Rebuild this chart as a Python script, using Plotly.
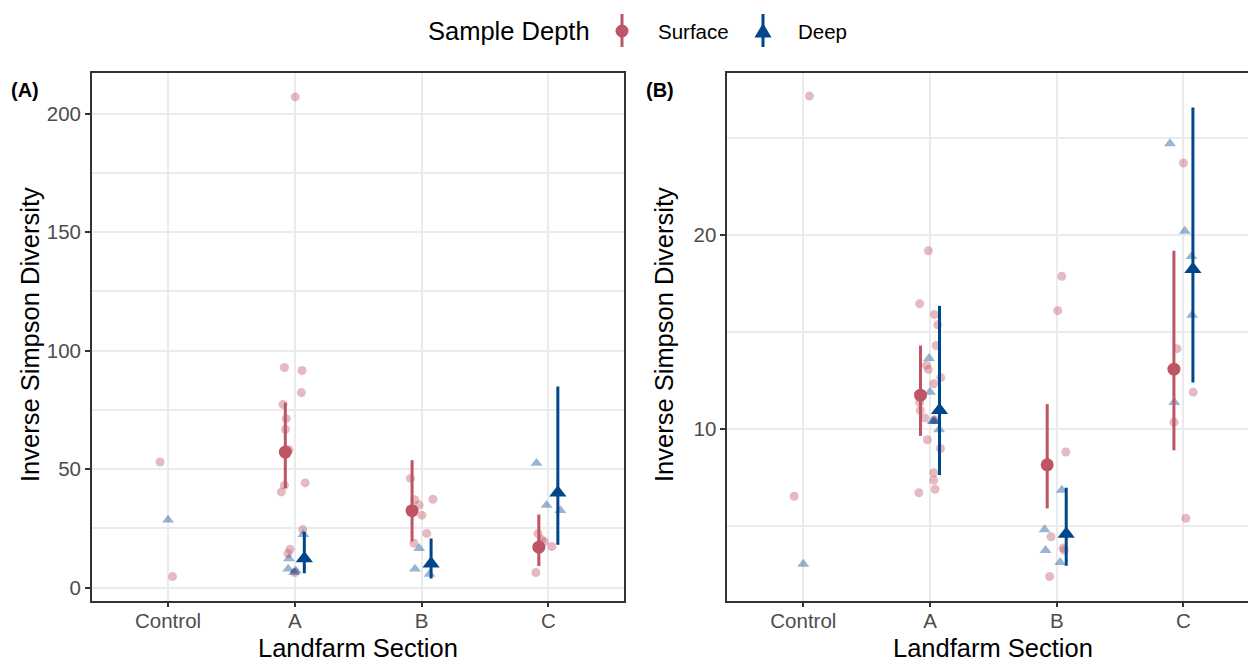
import plotly.graph_objects as go

# ---------------- data ----------------
categories = ["Control", "A", "B", "C"]
summary_categories = ["A", "B", "C"]

# Panel A – raw observations
a_surf_cat = ["Control"] * 2 + ["A"] * 15 + ["B"] * 7 + ["C"] * 5
a_surf_val = [53.0, 4.7,
              207.0, 92.9, 91.6, 82.3, 77.3, 71.3, 66.8, 58.2, 44.2, 43.2, 40.4, 24.5, 16.2, 14.4, 6.4,
              46.1, 37.1, 34.9, 37.3, 30.6, 22.9, 18.8,
              22.8, 20.3, 19.5, 17.4, 6.4]
a_surf_jit = [-0.063, 0.035,
              0.003, -0.082, 0.057, 0.052, -0.093, -0.068, -0.074, -0.046, 0.082, -0.082, -0.106, 0.063, -0.038, -0.054, 0.0,
              -0.087, -0.054, -0.019, 0.090, 0.003, 0.041, -0.060,
              -0.082, -0.054, -0.033, 0.027, -0.098]
a_deep_cat = ["Control"] + ["A"] * 5 + ["B"] * 3 + ["C"] * 3
a_deep_val = [28.6, 22.5, 12.3, 7.9, 7.1, 6.5, 16.6, 7.9, 5.7, 52.5, 34.8, 32.6]
a_deep_jit = [0.0, 0.068, -0.046, -0.052, 0.008, -0.005, -0.019, -0.052, 0.063, -0.093, -0.014, 0.095]

# Panel A – summaries (mean with interval)
a_surf_mean = [57.2, 32.5, 17.1]
a_surf_lo = [42.0, 19.5, 9.2]
a_surf_hi = [78.0, 53.8, 30.9]
a_deep_mean = [12.3, 10.1, 40.0]
a_deep_lo = [6.1, 3.9, 18.1]
a_deep_hi = [23.5, 20.7, 84.9]

# Panel B – raw observations
b_surf_cat = ["Control"] * 2 + ["A"] * 19 + ["B"] * 7 + ["C"] * 5
b_surf_val = [27.16, 6.52,
              19.18, 16.45, 15.89, 15.36, 14.29, 13.27, 13.05, 12.64, 12.32, 11.36, 10.95, 10.55, 10.46, 9.43,
              8.98, 7.73, 7.34, 6.88, 6.70,
              17.86, 16.09, 8.80, 4.43, 3.73, 3.85, 2.38,
              23.71, 14.13, 11.89, 10.34, 5.38]
b_surf_jit = [0.048, -0.072,
              -0.013, -0.082, 0.035, 0.061, 0.048, -0.029, -0.013, 0.085, 0.029, -0.082, -0.077, -0.040, 0.035, -0.021,
              0.082, 0.029, 0.029, 0.040, -0.088,
              0.040, 0.008, 0.072, -0.045, 0.059, 0.051, -0.056,
              0.0, -0.051, 0.077, -0.074, 0.019]
b_deep_cat = ["Control"] + ["A"] * 6 + ["B"] * 4 + ["C"] * 5
b_deep_val = [3.02, 13.63, 11.89, 10.38, 10.38, 10.40, 9.96, 6.84, 4.80, 3.73, 3.11,
              24.71, 20.20, 18.89, 15.86, 11.36]
b_deep_jit = [0.0, -0.008, 0.0, 0.021, 0.040, 0.030, 0.072, 0.040, -0.096, -0.088, 0.027,
              -0.106, 0.011, 0.064, 0.069, -0.072]

# Panel B – summaries
b_surf_mean = [11.73, 8.14, 13.07]
b_surf_lo = [9.63, 5.89, 8.89]
b_surf_hi = [14.29, 11.27, 19.18]
b_deep_mean = [10.95, 4.57, 18.23]
b_deep_lo = [7.61, 2.93, 12.38]
b_deep_hi = [16.34, 6.96, 26.57]

# ---------------- style ----------------
W, H = 1248, 661
SURF = "#BD5565"
DEEP = "#00468B"
GRID = "#EBEBEB"
BORDER = "#333333"
TICKC = "#4D4D4D"
FONT = "Liberation Sans, Arial, sans-serif"
DODGE = 0.075
TITLE_SIZE = 25.5
TICK_SIZE = 20.5


def pxx(x):
    return x / W


def pxy(y):
    return 1 - y / H


def cat_x(cats, jit):
    return [categories.index(c) + j for c, j in zip(cats, jit)]


def sum_x(offset):
    return [categories.index(c) + offset for c in summary_categories]


fig = go.Figure()


def add_panel(xa, ya, s_cat, s_val, s_jit, d_cat, d_val, d_jit,
              sm, slo, shi, dm, dlo, dhi):
    fig.add_trace(go.Scatter(x=cat_x(s_cat, s_jit), y=s_val, mode="markers", xaxis=xa, yaxis=ya,
                             marker=dict(symbol="circle", size=9, color=SURF, opacity=0.4, line=dict(width=0)),
                             showlegend=False, hoverinfo="skip"))
    fig.add_trace(go.Scatter(x=cat_x(d_cat, d_jit), y=d_val, mode="markers", xaxis=xa, yaxis=ya,
                             marker=dict(symbol="triangle-up", size=10.5, color=DEEP, opacity=0.4, line=dict(width=0)),
                             showlegend=False, hoverinfo="skip"))
    fig.add_trace(go.Scatter(x=sum_x(-DODGE), y=sm, mode="markers", xaxis=xa, yaxis=ya,
                             marker=dict(symbol="circle", size=13, color=SURF, line=dict(width=0)),
                             error_y=dict(type="data", symmetric=False,
                                          array=[h - m for h, m in zip(shi, sm)],
                                          arrayminus=[m - l for m, l in zip(sm, slo)],
                                          thickness=3, width=0, color=SURF),
                             showlegend=False, hoverinfo="skip"))
    fig.add_trace(go.Scatter(x=sum_x(DODGE), y=dm, mode="markers", xaxis=xa, yaxis=ya,
                             marker=dict(symbol="triangle-up", size=15, color=DEEP, line=dict(width=0)),
                             error_y=dict(type="data", symmetric=False,
                                          array=[h - m for h, m in zip(dhi, dm)],
                                          arrayminus=[m - l for m, l in zip(dm, dlo)],
                                          thickness=3, width=0, color=DEEP),
                             showlegend=False, hoverinfo="skip"))


add_panel("x", "y", a_surf_cat, a_surf_val, a_surf_jit, a_deep_cat, a_deep_val, a_deep_jit,
          a_surf_mean, a_surf_lo, a_surf_hi, a_deep_mean, a_deep_lo, a_deep_hi)
add_panel("x2", "y2", b_surf_cat, b_surf_val, b_surf_jit, b_deep_cat, b_deep_val, b_deep_jit,
          b_surf_mean, b_surf_lo, b_surf_hi, b_deep_mean, b_deep_lo, b_deep_hi)

ydom = [pxy(600.5), pxy(73)]
xcommon = dict(tickmode="array", tickvals=list(range(len(categories))), ticktext=categories,
               showgrid=True, gridcolor=GRID, gridwidth=1.8, zeroline=False,
               showline=True, linecolor=BORDER, linewidth=1.8, mirror=True,
               ticks="outside", ticklen=5, tickwidth=1.8, tickcolor=BORDER, ticklabelstandoff=-4,
               tickfont=dict(family=FONT, size=TICK_SIZE, color=TICKC), automargin=False)
ycommon = dict(showgrid=True, gridcolor=GRID, gridwidth=1.8, zeroline=False,
               showline=True, linecolor=BORDER, linewidth=1.8,
               ticks="outside", ticklen=5, tickwidth=1.8, tickcolor=BORDER,
               tickfont=dict(family=FONT, size=TICK_SIZE, color=TICKC), automargin=False)

fig.update_layout(
    width=W, height=H,
    margin=dict(l=0, r=0, t=0, b=0),
    paper_bgcolor="white", plot_bgcolor="white",
    showlegend=False,
    font=dict(family=FONT, color="black"),
    xaxis=dict(domain=[pxx(92), pxx(624.4)], range=[-0.6, 3.6], anchor="y", **xcommon),
    yaxis=dict(domain=ydom, range=[-5.4, 217.1], anchor="x", tick0=0, dtick=50, mirror=True,
               minor=dict(dtick=25, tick0=0, showgrid=True, gridcolor=GRID, gridwidth=1.5, ticks=""),
               **ycommon),
    xaxis2=dict(domain=[pxx(727.3), 1.0], range=[-0.6, -0.6 + (W - 727.3) / 126.7], anchor="y2", **xcommon),
    yaxis2=dict(domain=ydom, range=[1.14, 28.35], anchor="x2", tick0=0, dtick=10, mirror=False,
                minor=dict(dtick=5, tick0=0, showgrid=True, gridcolor=GRID, gridwidth=1.5, ticks=""),
                **ycommon),
)

ann = []
# axis titles
for cx in [(92 + 624.4) / 2, (727.3 + 1259.4) / 2]:
    ann.append(dict(text="Landfarm Section", x=pxx(cx), y=pxy(648), xref="paper", yref="paper",
                    showarrow=False, xanchor="center", yanchor="middle",
                    font=dict(family=FONT, size=TITLE_SIZE, color="black")))
for cx in [30, 664]:
    ann.append(dict(text="Inverse Simpson Diversity", x=pxx(cx), y=pxy(335), xref="paper", yref="paper",
                    showarrow=False, xanchor="center", yanchor="middle", textangle=-90,
                    font=dict(family=FONT, size=TITLE_SIZE, color="black")))
# panel tags
for tx, tag in [(9, "(A)"), (644, "(B)")]:
    ann.append(dict(text="<b>%s</b>" % tag, x=pxx(tx), y=pxy(90), xref="paper", yref="paper",
                    showarrow=False, xanchor="left", yanchor="middle",
                    font=dict(family=FONT, size=20, color="black")))
# legend texts
ann.append(dict(text="Sample Depth", x=pxx(426), y=pxy(31), xref="paper", yref="paper",
                showarrow=False, xanchor="left", yanchor="middle",
                font=dict(family=FONT, size=TITLE_SIZE, color="black")))
ann.append(dict(text="Surface", x=pxx(656), y=pxy(31), xref="paper", yref="paper",
                showarrow=False, xanchor="left", yanchor="middle",
                font=dict(family=FONT, size=TICK_SIZE, color="black")))
ann.append(dict(text="Deep", x=pxx(796), y=pxy(31), xref="paper", yref="paper",
                showarrow=False, xanchor="left", yanchor="middle",
                font=dict(family=FONT, size=TICK_SIZE, color="black")))

shapes = []
# legend glyphs (pointrange keys)
sx, dx, ly = 622, 763, 31
shapes.append(dict(type="line", xref="paper", yref="paper", x0=pxx(sx), x1=pxx(sx), y0=pxy(14), y1=pxy(47),
                   line=dict(color=SURF, width=3)))
shapes.append(dict(type="circle", xref="paper", yref="paper", x0=pxx(sx - 6.5), x1=pxx(sx + 6.5),
                   y0=pxy(ly + 6.5), y1=pxy(ly - 6.5), fillcolor=SURF, line=dict(width=0)))
shapes.append(dict(type="line", xref="paper", yref="paper", x0=pxx(dx), x1=pxx(dx), y0=pxy(14), y1=pxy(47),
                   line=dict(color=DEEP, width=3)))
tri = "M %f %f L %f %f L %f %f Z" % (pxx(dx - 8.5), pxy(37.5), pxx(dx + 8.5), pxy(37.5), pxx(dx), pxy(23))
shapes.append(dict(type="path", xref="paper", yref="paper", path=tri, fillcolor=DEEP, line=dict(width=0)))

fig.update_layout(annotations=ann, shapes=shapes)
fig.write_html("out.html", config={"displayModeBar": False},
               post_script="document.body.style.margin='0';document.body.style.overflow='hidden';")
